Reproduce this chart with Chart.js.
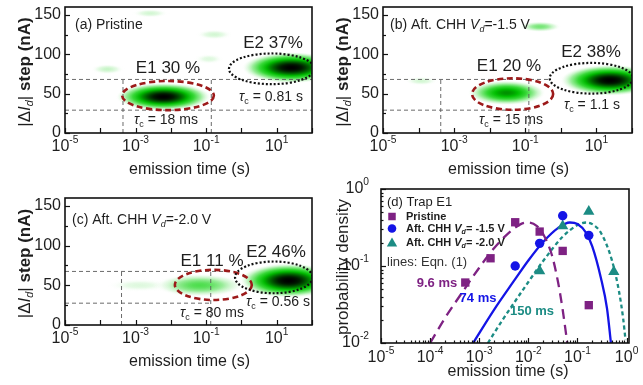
<!DOCTYPE html>
<html>
<head>
<meta charset="utf-8">
<script src="https://cdn.jsdelivr.net/npm/chart.js@4.4.1/dist/chart.umd.min.js"></script>
<style>
  html, body { margin: 0; padding: 0; background: #fff; }
  #wrap { position: relative; width: 643px; height: 385px; overflow: hidden; }
  #wrap canvas { position: absolute; left: 0; top: 0; }
</style>
</head>
<body>
<div id="wrap">
  <canvas id="pa" width="643" height="385"></canvas>
  <canvas id="pb" width="643" height="385"></canvas>
  <canvas id="pc" width="643" height="385"></canvas>
  <canvas id="pd" width="643" height="385"></canvas>
</div>
<script>
// ---------- axes ----------
const timeDecades = [-5, -4, -3, -2, -1, 0, 1, 2];
const timeLabelDecades = [-5, -3, -1, 1];
const stepTicks = [0, 50, 100, 150];
const stepMinorTicks = [25, 75, 125];
const trapTimeDecades = [-5, -4, -3, -2, -1, 0];
const densityDecades = [-2, -1, 0];

// ---------- (a) pristine: density spots (time s, step nA, spread in decades / nA, relative density) ----------
const pristineSpotTime = [6.2e-3, 26, 1.6e-4, 0.17, 2.6e-3, 0.12];
const pristineSpotStep = [46, 83, 81, 125, 152, 94];
const pristineSpotDec = [1.35, 1.4, 0.5, 0.55, 0.55, 0.45];
const pristineSpotNA = [18, 20, 7, 7, 6, 7];
const pristineSpotLevel = [1, 1, 0.12, 0.1, 0.1, 0.08];
// trap groups E1 / E2
const pristineTrapTime = [8.3e-3, 7.2];
const pristineTrapStep = [47.5, 81.5];
const pristineTrapDec = [1.3, 1.21];
const pristineTrapNA = [18.5, 19.5];
// dashed guides
const pristineGuideStep = [29, 68];
const pristineGuideEnd = [1e2, 1e2];
const pristineGuideTime = [4.4e-4, 0.14];

// ---------- (b) after CHH Vd = -1.5 V ----------
const chh15SpotTime = [24, 0.03, 1.2e-4, 0.26];
const chh15SpotStep = [67, 51, 66, 135];
const chh15SpotDec = [1.4, 1.1, 0.5, 0.6];
const chh15SpotNA = [20, 16, 6, 7];
const chh15SpotLevel = [1, 0.65, 0.1, 0.25];
const chh15TrapTime = [0.044, 7.2];
const chh15TrapStep = [49.5, 69.5];
const chh15TrapDec = [1.14, 1.17];
const chh15TrapNA = [20, 19.5];
const chh15GuideStep = [29, 68];
const chh15GuideEnd = [0.13, 0.45];
const chh15GuideTime = [4.2e-4, 0.126];

// ---------- (c) after CHH Vd = -2.0 V ----------
const chh20SpotTime = [1.3e-3, 0.066, 22];
const chh20SpotStep = [50, 50, 56];
const chh20SpotDec = [1.0, 1.3, 1.4];
const chh20SpotNA = [9, 15, 22];
const chh20SpotLevel = [0.08, 0.32, 1];
const chh20TrapTime = [0.16, 8.3];
const chh20TrapStep = [50.5, 60];
const chh20TrapDec = [1.09, 1.1];
const chh20TrapNA = [19, 20];
const chh20GuideStep = [27.5, 67.5];
const chh20GuideEnd = [0.135, 0.6];
const chh20GuideTime = [4e-4, 0.135];

// ---------- (d) trap E1 emission-time distributions ----------
const pristineTime = [5.2e-4, 1.7e-3, 5.4e-3, 1.7e-2, 5.0e-2, 0.17];
const pristineDensity = [0.061, 0.126, 0.37, 0.28, 0.157, 0.031];
const chh15Time = [5.4e-3, 1.7e-2, 5.0e-2, 0.17];
const chh15Density = [0.10, 0.197, 0.45, 0.25];
const chh20Time = [1.7e-2, 5.0e-2, 0.17, 0.55];
const chh20Density = [0.086, 0.33, 0.51, 0.084];
// fitted lines
const pristineFitTime = [1.0e-4, 2e-4, 5e-4, 1e-3, 2e-3, 4e-3, 7e-3, 1e-2, 1.5e-2, 2e-2, 3e-2, 4e-2, 5e-2, 6.2e-2];
const pristineFitDensity = [0.010, 0.021, 0.050, 0.095, 0.17, 0.27, 0.35, 0.368, 0.33, 0.26, 0.14, 0.063, 0.027, 0.010];
const chh15FitTime = [7.5e-4, 2e-3, 5e-3, 1e-2, 2e-2, 4e-2, 7e-2, 0.1, 0.15, 0.2, 0.3, 0.4, 0.48];
const chh15FitDensity = [0.010, 0.027, 0.063, 0.118, 0.205, 0.31, 0.367, 0.35, 0.27, 0.18, 0.07, 0.028, 0.010];
const chh20FitTime = [1.5e-3, 3e-3, 1e-2, 2e-2, 5e-2, 0.1, 0.15, 0.2, 0.3, 0.5, 0.7, 0.85, 0.95];
const chh20FitDensity = [0.010, 0.020, 0.062, 0.116, 0.24, 0.34, 0.367, 0.35, 0.27, 0.12, 0.047, 0.021, 0.011];

// ---------- drawing helpers ----------
const W = 643, H = 385;
const FONT = '"Liberation Sans", Arial, Helvetica, sans-serif';
const PURPLE = '#7e2283', BLUE = '#1414e6', TEAL = '#1c8c84';
const TXT = '#1e1e1e';

const pts = (xs, ys) => xs.map((x, i) => ({ x, y: ys[i] }));

function rich(ctx, parts, x, y, o) {
  const fs = o.size;
  const spans = parts.map(p => {
    const s = typeof p === 'string' ? { t: p } : p;
    const small = s.sub || s.sup;
    const size = small ? fs * 0.64 : fs;
    const bold = s.b !== undefined ? s.b : o.bold;
    const font = (s.i ? 'italic ' : '') + (bold ? 'bold ' : '') + size + 'px ' + FONT;
    ctx.font = font;
    return { t: s.t, font, w: ctx.measureText(s.t).width, dy: s.sub ? fs * 0.3 : s.sup ? -fs * 0.42 : 0 };
  });
  const total = spans.reduce((a, s) => a + s.w, 0);
  let cx = o.align === 'center' ? x - total / 2 : o.align === 'right' ? x - total : x;
  ctx.fillStyle = o.color || TXT;
  ctx.textBaseline = 'middle';
  ctx.textAlign = 'left';
  spans.forEach(s => { ctx.font = s.font; ctx.fillText(s.t, cx, y + s.dy); cx += s.w; });
}

const STOPS = [
  [0.00, 255, 255, 255, 0],
  [0.06, 215, 247, 215, 0.6],
  [0.18, 150, 236, 150, 0.95],
  [0.35, 60, 218, 60, 1],
  [0.55, 0, 190, 0, 1],
  [0.75, 0, 100, 0, 1],
  [0.92, 0, 25, 0, 1],
  [1.00, 0, 0, 0, 1]
];
function shade(d) {
  d = Math.max(0, Math.min(1, d));
  for (let i = 1; i < STOPS.length; i++) {
    if (d <= STOPS[i][0]) {
      const a = STOPS[i - 1], b = STOPS[i], f = (d - a[0]) / (b[0] - a[0]);
      const c = k => a[k] + (b[k] - a[k]) * f;
      return `rgba(${Math.round(c(1))},${Math.round(c(2))},${Math.round(c(3))},${c(4).toFixed(3)})`;
    }
  }
  return 'rgba(0,0,0,1)';
}

function spot(ctx, cx, cy, rx, ry, level) {
  ctx.save();
  ctx.translate(cx, cy);
  ctx.scale(rx, ry);
  const g = ctx.createRadialGradient(0, 0, 0, 0, 0, 1);
  for (let i = 0; i <= 14; i++) {
    const r = i / 14;
    g.addColorStop(r, shade(level * Math.exp(-2 * r * r) * (1 - Math.pow(r, 4))));
  }
  ctx.fillStyle = g;
  ctx.beginPath();
  ctx.arc(0, 0, 1, 0, Math.PI * 2);
  ctx.fill();
  ctx.restore();
}

function clipArea(ctx, a) {
  ctx.beginPath();
  ctx.rect(a.left, a.top, a.right - a.left, a.bottom - a.top);
  ctx.clip();
}

// density map + trap ellipses
const heatPlugin = {
  id: 'heat',
  beforeDatasetsDraw(chart) {
    const { ctx, chartArea: a, scales: { x, y } } = chart;
    ctx.save();
    clipArea(ctx, a);
    chart.data.datasets.forEach(ds => {
      if (ds.kind !== 'spots') return;
      ds.data.forEach((p, i) => {
        const cx = x.getPixelForValue(p.x), cy = y.getPixelForValue(p.y);
        const rx = Math.abs(x.getPixelForValue(p.x * Math.pow(10, ds.spreadDec[i])) - cx);
        const ry = Math.abs(y.getPixelForValue(p.y + ds.spreadNA[i]) - cy);
        spot(ctx, cx, cy, rx, ry, ds.level[i]);
      });
    });
    ctx.restore();
  },
  afterDatasetsDraw(chart) {
    const { ctx, chartArea: a, scales: { x, y } } = chart;
    ctx.save();
    clipArea(ctx, a);
    chart.data.datasets.forEach(ds => {
      if (ds.kind !== 'traps') return;
      ds.data.forEach((p, i) => {
        const cx = x.getPixelForValue(p.x), cy = y.getPixelForValue(p.y);
        const rx = Math.abs(x.getPixelForValue(p.x * Math.pow(10, ds.spreadDec[i])) - cx);
        const ry = Math.abs(y.getPixelForValue(p.y + ds.spreadNA[i]) - cy);
        ctx.strokeStyle = ds.ringColors[i];
        ctx.lineWidth = ds.ringWidths[i];
        ctx.setLineDash(ds.ringDashes[i]);
        ctx.beginPath();
        ctx.ellipse(cx, cy, rx, ry, 0, 0, Math.PI * 2);
        ctx.stroke();
      });
    });
    ctx.restore();
  }
};

// frame, inward ticks, labels, notes
const decor = {};
const decorPlugin = {
  id: 'decor',
  afterDraw(chart) {
    const o = decor[chart.canvas.id];
    const { ctx, chartArea: a, scales: { x, y } } = chart;
    ctx.save();
    ctx.strokeStyle = '#111';
    ctx.setLineDash([]);
    ctx.lineWidth = 1.2;
    o.xTicks.forEach(t => {
      const px = Math.round(x.getPixelForValue(t.v)) + 0.5;
      ctx.beginPath(); ctx.moveTo(px, a.bottom); ctx.lineTo(px, a.bottom - t.len); ctx.stroke();
    });
    o.yTicks.forEach(t => {
      const py = Math.round(y.getPixelForValue(t.v)) + 0.5;
      ctx.beginPath(); ctx.moveTo(a.left, py); ctx.lineTo(a.left + t.len, py); ctx.stroke();
    });
    ctx.lineWidth = 1.6;
    ctx.strokeRect(a.left, a.top, a.right - a.left, a.bottom - a.top);
    o.xLabels.forEach(l => rich(ctx, l.parts, x.getPixelForValue(l.v), o.xLabelY, { size: 16, align: 'center' }));
    o.yLabels.forEach(l => rich(ctx, l.parts, o.yLabelX, y.getPixelForValue(l.v), { size: 16, align: 'right' }));
    o.notes.forEach(n => {
      ctx.save();
      ctx.translate(n.x, n.y);
      if (n.rot) ctx.rotate(n.rot);
      rich(ctx, n.parts, 0, 0, { size: n.size, bold: n.bold, color: n.color, align: n.align || 'center' });
      ctx.restore();
    });
    (o.markers || []).forEach(m => {
      ctx.fillStyle = m.color;
      Chart.helpers.drawPoint(ctx, { pointStyle: m.style, radius: m.r, rotation: 0, borderWidth: 0 }, m.x, m.y);
    });
    ctx.restore();
  }
};

const tau = [{ t: 'τ', i: true }, { t: 'c', sub: true }];
const expLabel = e => ['10', { t: String(e), sup: true }];
const hidden = extra => Object.assign({ display: false }, extra);
const pad = area => ({ left: area.l, top: area.t, right: W - area.r, bottom: H - area.b });

function heatChart(id, area, spots, traps, guides, notes) {
  decor[id] = {
    xTicks: timeDecades.map(e => ({ v: Math.pow(10, e), len: 5 })),
    yTicks: stepTicks.map(v => ({ v, len: 5 })).concat(stepMinorTicks.map(v => ({ v, len: 3 }))),
    xLabels: timeLabelDecades.map(e => ({ v: Math.pow(10, e), parts: expLabel(e) })),
    xLabelY: area.b + 14,
    yLabels: stepTicks.map(v => ({ v, parts: [String(v)] })),
    yLabelX: area.l - 4,
    notes: notes.concat([
      { x: (area.l + area.r) / 2 + 1, y: area.b + 37, parts: ['emission time (s)'], size: 16 },
      { x: area.l - 40, y: (area.t + area.b) / 2 + 2, rot: -Math.PI / 2, size: 17,
        parts: ['|Δ', { t: 'I', i: true }, { t: 'd', i: true, sub: true }, '| ', { t: 'step (nA)', b: true }] }
    ])
  };
  const guideSets = [];
  guides.steps.forEach((s, i) => guideSets.push({ data: [{ x: 1e-5, y: s }, { x: guides.ends[i], y: s }] }));
  guides.times.forEach(t => guideSets.push({ data: [{ x: t, y: 0 }, { x: t, y: Math.max(...guides.steps) }] }));
  guideSets.forEach(g => Object.assign(g, {
    showLine: true, pointRadius: 0, borderColor: '#5a5a5a', borderWidth: 0.9, borderDash: [4, 3]
  }));
  return new Chart(document.getElementById(id), {
    type: 'scatter',
    data: {
      datasets: [
        { kind: 'traps', data: pts(traps.time, traps.step), pointRadius: 0,
          spreadDec: traps.dec, spreadNA: traps.na,
          ringColors: ['#9c1a1a', '#111'], ringWidths: [2.6, 2.2], ringDashes: [[6, 3.5], [2, 2]] },
        ...guideSets,
        { kind: 'spots', data: pts(spots.time, spots.step), pointRadius: 0,
          spreadDec: spots.dec, spreadNA: spots.na, level: spots.level }
      ]
    },
    options: {
      responsive: false, animation: false, devicePixelRatio: 1,
      layout: { padding: pad(area) },
      plugins: { legend: { display: false }, tooltip: { enabled: false } },
      scales: {
        x: hidden({ type: 'logarithmic', min: 1e-5, max: 1e2 }),
        y: hidden({ type: 'linear', min: 0, max: 160 })
      }
    },
    plugins: [heatPlugin, decorPlugin]
  });
}

// ---------- panel (a) ----------
heatChart('pa', { l: 65, t: 7, r: 312, b: 133 },
  { time: pristineSpotTime, step: pristineSpotStep, dec: pristineSpotDec, na: pristineSpotNA, level: pristineSpotLevel },
  { time: pristineTrapTime, step: pristineTrapStep, dec: pristineTrapDec, na: pristineTrapNA },
  { steps: pristineGuideStep, ends: pristineGuideEnd, times: pristineGuideTime },
  [
    { x: 75, y: 25, parts: ['(a) Pristine'], size: 14, align: 'left' },
    { x: 168, y: 68, parts: ['E1 30 %'], size: 17 },
    { x: 273, y: 43, parts: ['E2 37%'], size: 17 },
    { x: 271, y: 97, parts: tau.concat([' = 0.81 s']), size: 14 },
    { x: 166, y: 120, parts: tau.concat([' = 18 ms']), size: 14 }
  ]);

// ---------- panel (b) ----------
heatChart('pb', { l: 383, t: 7, r: 632, b: 133 },
  { time: chh15SpotTime, step: chh15SpotStep, dec: chh15SpotDec, na: chh15SpotNA, level: chh15SpotLevel },
  { time: chh15TrapTime, step: chh15TrapStep, dec: chh15TrapDec, na: chh15TrapNA },
  { steps: chh15GuideStep, ends: chh15GuideEnd, times: chh15GuideTime },
  [
    { x: 390, y: 25, parts: ['(b) Aft. CHH ', { t: 'V', i: true }, { t: 'd', i: true, sub: true }, '=-1.5 V'], size: 14, align: 'left' },
    { x: 509, y: 66, parts: ['E1 20 %'], size: 17 },
    { x: 591, y: 52, parts: ['E2 38%'], size: 17 },
    { x: 592, y: 105, parts: tau.concat([' = 1.1 s']), size: 14 },
    { x: 511, y: 120, parts: tau.concat([' = 15 ms']), size: 14 }
  ]);

// ---------- panel (c) ----------
heatChart('pc', { l: 65, t: 198, r: 312, b: 325 },
  { time: chh20SpotTime, step: chh20SpotStep, dec: chh20SpotDec, na: chh20SpotNA, level: chh20SpotLevel },
  { time: chh20TrapTime, step: chh20TrapStep, dec: chh20TrapDec, na: chh20TrapNA },
  { steps: chh20GuideStep, ends: chh20GuideEnd, times: chh20GuideTime },
  [
    { x: 72, y: 220, parts: ['(c) Aft. CHH ', { t: 'V', i: true }, { t: 'd', i: true, sub: true }, '=-2.0 V'], size: 14, align: 'left' },
    { x: 212, y: 261, parts: ['E1 11 %'], size: 17 },
    { x: 276, y: 252, parts: ['E2 46%'], size: 17 },
    { x: 212, y: 313, parts: tau.concat([' = 80 ms']), size: 14 },
    { x: 278, y: 302, parts: tau.concat([' = 0.56 s']), size: 14 }
  ]);

// ---------- panel (d) ----------
const areaD = { l: 381, t: 189, r: 629, b: 343 };
const minorMul = [2, 3, 4, 5, 6, 7, 8, 9];
decor.pd = {
  xTicks: trapTimeDecades.map(e => ({ v: Math.pow(10, e), len: 5 }))
    .concat(trapTimeDecades.flatMap(e => minorMul.map(m => ({ v: m * Math.pow(10, e), len: 2.5 })))
      .filter(t => t.v < 1.12)),
  yTicks: densityDecades.map(e => ({ v: Math.pow(10, e), len: 5 }))
    .concat([-2, -1].flatMap(e => minorMul.map(m => ({ v: m * Math.pow(10, e), len: 2.5 })))),
  xLabels: trapTimeDecades.map(e => ({ v: Math.pow(10, e), parts: expLabel(e) })),
  xLabelY: areaD.b + 15,
  yLabels: densityDecades.map(e => ({ v: Math.pow(10, e), parts: expLabel(e) })),
  yLabelX: 369,
  notes: [
    { x: 387, y: 202, parts: ['(d) Trap E1'], size: 13, align: 'left' },
    { x: 406, y: 216.5, parts: ['Pristine'], size: 11, bold: true, align: 'left' },
    { x: 406, y: 228.5, parts: ['Aft. CHH ', { t: 'V', i: true }, { t: 'd', i: true, sub: true }, '= -1.5 V'], size: 11, bold: true, align: 'left' },
    { x: 406, y: 243, parts: ['Aft. CHH ', { t: 'V', i: true }, { t: 'd', i: true, sub: true }, '= -2.0 V'], size: 11, bold: true, align: 'left' },
    { x: 387, y: 262, parts: ['lines: Eqn. (1)'], size: 13, align: 'left', color: '#333' },
    { x: 437, y: 283, parts: ['9.6 ms'], size: 13, bold: true, color: PURPLE },
    { x: 478, y: 298, parts: ['74 ms'], size: 13, bold: true, color: BLUE },
    { x: 532, y: 311, parts: ['150 ms'], size: 13, bold: true, color: TEAL },
    { x: 508, y: 372, parts: ['emission time (s)'], size: 16 },
    { x: 343, y: 267, rot: -Math.PI / 2, parts: ['probability density'], size: 17 }
  ],
  markers: [
    { style: 'rect', r: 5.3, color: PURPLE, x: 392, y: 216.5 },
    { style: 'circle', r: 4.3, color: BLUE, x: 392, y: 228.5 },
    { style: 'triangle', r: 6, color: TEAL, x: 392, y: 243.5 }
  ]
};

new Chart(document.getElementById('pd'), {
  type: 'scatter',
  data: {
    datasets: [
      { label: 'Pristine', data: pts(pristineTime, pristineDensity), pointStyle: 'rect', pointRadius: 5.9, backgroundColor: PURPLE, borderWidth: 0 },
      { label: 'Aft. CHH Vd=-1.5 V', data: pts(chh15Time, chh15Density), pointStyle: 'circle', pointRadius: 4.7, backgroundColor: BLUE, borderWidth: 0 },
      { label: 'Aft. CHH Vd=-2.0 V', data: pts(chh20Time, chh20Density), pointStyle: 'triangle', pointRadius: 6.5, backgroundColor: TEAL, borderWidth: 0 },
      { label: '9.6 ms', data: pts(pristineFitTime, pristineFitDensity), showLine: true, pointRadius: 0, borderColor: PURPLE, borderWidth: 2.3, borderDash: [10, 6], cubicInterpolationMode: 'monotone' },
      { label: '74 ms', data: pts(chh15FitTime, chh15FitDensity), showLine: true, pointRadius: 0, borderColor: BLUE, borderWidth: 2.3, cubicInterpolationMode: 'monotone' },
      { label: '150 ms', data: pts(chh20FitTime, chh20FitDensity), showLine: true, pointRadius: 0, borderColor: TEAL, borderWidth: 2.3, borderDash: [4, 3], cubicInterpolationMode: 'monotone' }
    ]
  },
  options: {
    responsive: false, animation: false, devicePixelRatio: 1,
    layout: { padding: pad(areaD) },
    plugins: { legend: { display: false }, tooltip: { enabled: false } },
    scales: {
      x: hidden({ type: 'logarithmic', min: 1e-5, max: 1.12 }),
      y: hidden({ type: 'logarithmic', min: 0.01, max: 1 })
    }
  },
  plugins: [decorPlugin]
});
</script>
</body>
</html>
